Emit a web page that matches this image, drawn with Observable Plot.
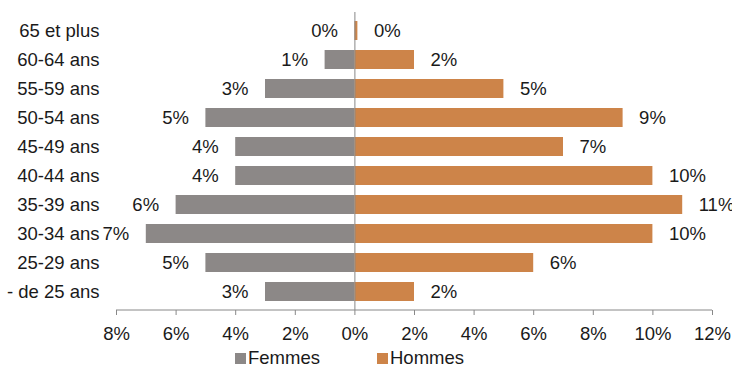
<!DOCTYPE html>
<html>
<head>
<meta charset="utf-8">
<script src="https://cdn.jsdelivr.net/npm/d3@7"></script>
<script src="https://cdn.jsdelivr.net/npm/@observablehq/plot@0.6"></script>
<style>
  body { margin: 0; background: white; font-family: "Liberation Sans", Arial, sans-serif; overflow: hidden; }
  #legend { position: relative; height: 22px; font-size: 18.5px; line-height: 20px; color: #1a1a1a; }
  .item { position: absolute; top: 3px; height: 20px; display: flex; align-items: center; box-sizing: border-box; }
  .sw { width: 11px; height: 11px; margin-right: 2px; }
</style>
</head>
<body>
<div id="chart"></div>
<div id="legend"></div>
<script>
const ages = ["65 et plus","60-64 ans","55-59 ans","50-54 ans","45-49 ans","40-44 ans","35-39 ans","30-34 ans","25-29 ans","- de 25 ans"];
const femmes = [0, 1, 3, 5, 4, 4, 6, 7, 5, 3];
const hommes = [0.1, 2, 5, 9, 7, 10, 11, 10, 6, 2];
const sexes = ["Femmes", "Hommes"];
const colors = ["#8c8887", "#cd8449"];
const xTicks = [-8, -6, -4, -2, 0, 2, 4, 6, 8, 10, 12];

const dataF = ages.map((a, i) => ({age: a, sex: "Femmes", value: -femmes[i], label: Math.round(femmes[i]) + "%"}));
const dataH = ages.map((a, i) => ({age: a, sex: "Hommes", value: hommes[i], label: Math.round(hommes[i]) + "%"}));

const FS = 18.5;
const chart = Plot.plot({
  width: 732,
  height: 345,
  marginLeft: 116,
  marginRight: 20,
  marginTop: 12,
  marginBottom: 35,
  style: {fontSize: FS + "px", fontFamily: "'Liberation Sans', Arial, sans-serif", color: "#1a1a1a", background: "white", display: "block"},
  x: {domain: [-8, 12]},
  y: {domain: ages, paddingInner: 0.35, paddingOuter: 0.175},
  color: {domain: sexes, range: colors},
  marks: [
    Plot.barX(dataF.concat(dataH), {x: "value", y: "age", fill: "sex"}),
    Plot.ruleX([0], {stroke: "#888"}),
    Plot.text(dataF, {x: "value", y: "age", text: "label", textAnchor: "end", dx: -17, fontSize: FS, fill: "#1a1a1a"}),
    Plot.text(dataH, {x: "value", y: "age", text: "label", textAnchor: "start", dx: 16, fontSize: FS, fill: "#1a1a1a"}),
    Plot.axisX({ticks: xTicks, tickFormat: d => Math.abs(d) + "%", tickSize: 5, tickPadding: 11, stroke: "#888", fill: "#1a1a1a", label: null, fontSize: FS}),
    Plot.axisY({tickSize: 0, tickPadding: 17, label: null, fill: "#1a1a1a", fontSize: FS}),
    (index, scales, values, dimensions) => {
      const y = dimensions.height - dimensions.marginBottom;
      return d3.create("svg:line")
        .attr("x1", scales.x(xTicks[0]))
        .attr("x2", scales.x(xTicks[xTicks.length - 1]))
        .attr("y1", y).attr("y2", y)
        .attr("stroke", "#888")
        .node();
    }
  ]
});
document.getElementById("chart").appendChild(chart);

const legend = document.getElementById("legend");
const lx = [235, 377];
sexes.forEach((s, i) => {
  const it = document.createElement("div");
  it.className = "item";
  it.style.left = lx[i] + "px";
  const sw = document.createElement("span");
  sw.className = "sw";
  sw.style.background = colors[i];
  const t = document.createElement("span");
  t.textContent = s;
  it.appendChild(sw);
  it.appendChild(t);
  legend.appendChild(it);
});
</script>
</body>
</html>
